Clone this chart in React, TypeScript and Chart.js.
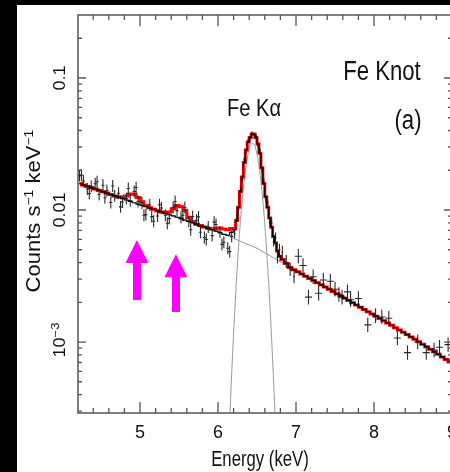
import { useEffect, useRef } from "react";
import { Chart, registerables } from "chart.js";
Chart.register(...registerables);

// ---------- data ----------
const modelE = [4.225,4.275,4.325,4.375,4.425,4.475,4.525,4.575,4.625,4.675,4.725,4.775,4.825,4.875,4.925,4.975,
5.025,5.075,5.125,5.175,5.225,5.275,5.325,5.375,5.425,5.475,5.525,5.575,5.625,5.675,5.725,5.775,5.825,5.875,5.925,5.975,
6.025,6.075,6.125,6.175,
6.2125,6.2375,6.2625,6.2875,6.3125,6.3375,6.3625,6.3875,6.4125,6.4375,6.4625,6.4875,6.5125,6.5375,6.5625,6.5875,
6.6125,6.6375,6.6625,6.6875,6.7125,6.7375,6.7625,6.7875,
6.825,6.875,6.925,6.975,
7.025,7.075,7.125,7.175,7.225,7.275,7.325,7.375,7.425,7.475,7.525,7.575,7.625,7.675,7.725,7.775,7.825,7.875,7.925,7.975,
8.025,8.075,8.125,8.175,8.225,8.275,8.325,8.375,8.425,8.475,8.525,8.575,8.625,8.675,8.725,8.775,8.825,8.875,8.925,8.975];

const modelBlack = [0.01585,0.01549,0.01510,0.01476,0.01442,0.01406,0.01374,0.01343,0.01309,0.01279,0.01250,0.01219,0.01191,0.01164,0.01135,0.01109,
0.01084,0.01059,0.01035,0.01012,0.009886,0.009661,0.009441,0.009226,0.009016,0.008810,0.008610,0.008395,0.008204,0.007998,0.007816,0.007621,0.007447,0.007261,0.007096,0.006918,
0.006745,0.006546,0.006457,0.006761,
0.007079,0.008318,0.01047,0.01380,0.01778,0.02291,0.02851,0.03273,0.03548,0.03758,0.03758,0.03548,0.03162,0.02692,0.02089,0.01585,
0.01259,0.01047,0.008710,0.007413,0.006310,0.005623,0.004898,0.004467,
0.004217,0.003936,0.003673,0.003532,
0.003404,0.003273,0.003155,0.003034,0.002924,0.002812,0.002710,0.002606,0.002512,0.002415,0.002326,0.002234,0.002148,0.002065,0.001986,0.001910,0.001837,0.001766,0.001698,0.001633,
0.001570,0.001510,0.001449,0.001393,0.001337,0.001285,0.001233,0.001186,0.001138,0.001094,0.001048,0.001003,0.0009605,0.0009194,0.0008800,0.0008423,0.0008063,0.0007718,0.0007386,0.0007070];

const modelRed = [0.01585,0.01549,0.01510,0.01476,0.01442,0.01406,0.01374,0.01343,0.01309,0.01279,0.01250,0.01262,0.01276,0.01321,0.01318,0.01245,
0.01156,0.01084,0.01042,0.01012,0.009886,0.009661,0.009550,0.009661,0.01023,0.01084,0.01059,0.009977,0.008790,0.008147,0.007816,0.007621,0.007447,0.007261,0.007178,0.007244,
0.007311,0.007178,0.007079,0.007244,
0.007244,0.008318,0.01047,0.01380,0.01778,0.02291,0.02851,0.03273,0.03548,0.03758,0.03758,0.03548,0.03162,0.02692,0.02089,0.01585,
0.01259,0.01047,0.008710,0.007413,0.006310,0.005623,0.004898,0.004467,
0.004217,0.003936,0.003673,0.003532,
0.003404,0.003273,0.003155,0.003034,0.002924,0.002812,0.002710,0.002606,0.002512,0.002415,0.002326,0.002234,0.002148,0.002065,0.001986,0.001910,0.001837,0.001766,0.001698,0.001633,
0.001570,0.001510,0.001449,0.001393,0.001337,0.001285,0.001233,0.001186,0.001138,0.001094,0.001048,0.001003,0.0009605,0.0009194,0.0008800,0.0008423,0.0008063,0.0007718,0.0007386,0.0007070];

const contE = [4.2, 5.0, 5.5, 6.0, 6.5, 7.0, 7.5, 8.0, 8.5, 9.0];
const contV = [0.01603, 0.01096, 0.008710, 0.006839, 0.005129, 0.003467, 0.002371, 0.001603, 0.001072, 0.0006918];

const gaussE = [6.10,6.15,6.20,6.25,6.30,6.35,6.40,6.45,6.50,6.55,6.60,6.65,6.70,6.75,6.80];
const gaussV = [4.3e-5,2.57e-4,0.001165,0.003974,0.01022,0.01982,0.02896,0.03188,0.02646,0.01654,0.007789,0.002768,0.00074,0.000149,2.26e-5];

const lowE = [4.225,4.275,4.325,4.375,4.425,4.475,4.525,4.575,4.625,4.675,4.725,4.775,4.825,4.875,4.925,4.975,
5.025,5.075,5.125,5.175,5.225,5.275,5.325,5.375,5.425,5.475,5.525,5.575,5.625,5.675,5.725,5.775,5.825,5.875,5.925,5.975,
6.025,6.075,6.125,6.175];
const lowV = [0.01820,0.01660,0.01442,0.01510,0.01581,0.01312,0.01542,0.01406,0.01140,0.01279,0.01340,0.01151,0.01219,0.01178,0.01380,0.01161,
0.01130,0.009226,0.01091,0.008222,0.009016,0.01035,0.009120,0.008610,0.01047,0.009886,0.008810,0.01045,0.008204,0.008933,0.008375,0.006792,0.006194,0.007430,0.006397,0.007762,
0.006823,0.005702,0.005129,0.006310];
const low2E = [4.25,4.35,4.45,4.55,4.65,4.75,4.85,4.95,5.05,5.15,5.25,5.35,5.45,5.55,5.65,5.75,5.85,5.95,6.05,6.15];
const low2V = [0.01841,0.01330,0.01637,0.01239,0.01521,0.01057,0.01456,0.01479,0.009120,0.008913,0.01096,0.007943,0.01161,0.009120,0.007079,0.008872,0.005984,0.008091,0.005495,0.004842];
const lowErrDex = 0.045;
const lowHalfWidth = 0.02;

const peakE = [6.2125,6.2375,6.2625,6.2875,6.3125,6.3375,6.3625,6.3875,6.4125,6.4375,6.4625,6.4875,6.5125,6.5375,6.5625,6.5875,
6.6125,6.6375,6.6625,6.6875,6.7125,6.7375,6.7625,6.7875,6.825,6.875,6.925,6.975];
const peakV = [0.006607,0.008710,0.01000,0.01413,0.01698,0.02399,0.02786,0.03350,0.03467,0.03802,0.03673,0.03631,0.03090,0.02818,0.01995,0.01660,
0.01202,0.01122,0.008128,0.007943,0.005754,0.006166,0.004365,0.005012,0.004786,0.004074,0.003548,0.003126];
const peakErrDex = [0.035,0.03,0.028,0.025,0.022,0.02,0.018,0.017,0.016,0.016,0.016,0.016,0.017,0.018,0.02,0.022,
0.025,0.028,0.03,0.033,0.036,0.04,0.045,0.045,0.05,0.05,0.05,0.05];
const peakHalfWidth = 0.0125;

const highE = [7.03,7.09,7.16,7.22,7.29,7.35,7.44,7.50,7.55,7.59,7.66,7.70,7.80,7.92,8.02,8.10,8.19,8.30,8.43,8.56,8.67,8.77,8.84,8.95];
const highV = [0.004467,0.003802,0.002188,0.003126,0.002344,0.002951,0.002884,0.002512,0.002291,0.002188,0.002399,0.002089,0.002138,0.001349,
0.001585,0.001549,0.001514,0.001072,0.0008318,0.001000,0.0008318,0.0008710,0.0009120,0.0009550];
const highErrDex = 0.055;
const highHalfWidth = 0.045;

const arrowE = [4.961, 5.461];
const arrowTip = [0.005929, 0.004616];
const arrowTail = [0.002080, 0.001687];

const xTickValues = [5, 6, 7, 8, 9];
const xTickLabels = ["5", "6", "7", "8", "9"];
const yTickValues = [0.1, 0.01, 0.001];
const yTickLabels = ["0.1", "0.01", "10|−3"];

const X_MIN = 4.205, X_MAX = 9.0, Y_MIN = 2.9e-4, Y_MAX = 0.3;

// ---------- helpers ----------
function crosses(E: number[], V: number[], dx: number, err: number | number[]) {
  const pts: any[] = [];
  E.forEach((e, i) => {
    const v = V[i];
    const d = Array.isArray(err) ? err[i] : err;
    const f = Math.pow(10, d);
    pts.push({ x: e - dx, y: v }, { x: e + dx, y: v }, { x: e, y: null });
    pts.push({ x: e, y: v / f }, { x: e, y: v * f }, { x: e, y: null });
  });
  return pts;
}

function txt(ctx: CanvasRenderingContext2D, s: string, x: number, y: number, font: string, sx: number, align: CanvasTextAlign = "center") {
  ctx.save();
  ctx.translate(x, y);
  ctx.scale(sx, 1);
  ctx.font = font;
  ctx.textAlign = align;
  ctx.textBaseline = "alphabetic";
  ctx.fillText(s, 0, 0);
  ctx.restore();
}

type Seg = { t: string; sup: boolean };
function rotSegs(ctx: CanvasRenderingContext2D, segs: Seg[], x: number, y: number, size: number, supSize: number, rise: number, sx: number) {
  ctx.save();
  ctx.translate(x, y);
  ctx.scale(sx, 1);
  ctx.rotate(-Math.PI / 2);
  ctx.textBaseline = "alphabetic";
  ctx.textAlign = "left";
  const fam = "'Liberation Sans', Arial, sans-serif";
  let total = 0;
  const widths = segs.map((s) => {
    ctx.font = `${s.sup ? supSize : size}px ${fam}`;
    const w = ctx.measureText(s.t).width;
    total += w;
    return w;
  });
  let pos = -total / 2;
  segs.forEach((s, i) => {
    ctx.font = `${s.sup ? supSize : size}px ${fam}`;
    ctx.fillText(s.t, pos, s.sup ? -rise : 0);
    pos += widths[i];
  });
  ctx.restore();
}

const decor = {
  id: "decor",
  beforeDraw(chart: any) {
    const c = chart.ctx;
    c.save();
    c.fillStyle = "#000";
    c.fillRect(0, 0, chart.width, chart.height);
    c.fillStyle = "#fff";
    c.fillRect(17, 5, chart.width - 17, chart.height - 5);
    c.restore();
  },
  afterDatasetsDraw(chart: any) {
    const c: CanvasRenderingContext2D = chart.ctx;
    const { left, right, top, bottom } = chart.chartArea;
    const xs = chart.scales.x;
    const ys = chart.scales.y;
    const fam = "'Liberation Sans', Arial, sans-serif";
    c.save();
    // arrows
    c.fillStyle = "#ff00ff";
    arrowE.forEach((e, i) => {
      const px = xs.getPixelForValue(e);
      const ty = ys.getPixelForValue(arrowTip[i]);
      const by = ys.getPixelForValue(arrowTail[i]);
      c.beginPath();
      c.moveTo(px, ty);
      c.lineTo(px - 11.5, ty + 23);
      c.lineTo(px + 11.5, ty + 23);
      c.closePath();
      c.fill();
      c.fillRect(px - 4, ty + 22, 8, by - ty - 22);
    });
    // frame
    c.strokeStyle = "#555";
    c.lineWidth = 1.5;
    c.strokeRect(left, top, right - left, bottom - top);
    c.lineWidth = 1.3;
    c.beginPath();
    for (let k = 0; k <= 24; k++) {
      const v = 4.4 + k * 0.2;
      if (v > X_MAX + 1e-6) break;
      const major = Math.abs(v - Math.round(v)) < 1e-6;
      const len = major ? 11 : 5;
      const px = xs.getPixelForValue(v);
      c.moveTo(px, bottom); c.lineTo(px, bottom - len);
      c.moveTo(px, top); c.lineTo(px, top + len);
    }
    for (let d = -4; d <= 0; d++) {
      for (let m = 1; m <= 9; m++) {
        const v = m * Math.pow(10, d);
        if (v < Y_MIN || v > Y_MAX) continue;
        const len = m === 1 ? 8 : 4;
        const py = ys.getPixelForValue(v);
        c.moveTo(left, py); c.lineTo(left + len, py);
        c.moveTo(right, py); c.lineTo(right - len, py);
      }
    }
    c.stroke();
    // tick labels
    c.fillStyle = "#111";
    xTickValues.forEach((v, i) => {
      txt(c, xTickLabels[i], xs.getPixelForValue(v), 438, `18px ${fam}`, 1);
    });
    yTickValues.forEach((v, i) => {
      const py = ys.getPixelForValue(v);
      const lab = yTickLabels[i];
      if (lab.includes("|")) {
        const [b, e] = lab.split("|");
        rotSegs(c, [{ t: b, sup: false }, { t: e, sup: true }], 65, py - 2, 18, 13, 7, 0.9);
      } else {
        rotSegs(c, [{ t: lab, sup: false }], 65, py, 18, 13, 7, 0.9);
      }
    });
    // axis titles
    txt(c, "Energy (keV)", 260, 466, `22px ${fam}`, 0.76);
    rotSegs(c, [
      { t: "Counts s", sup: false },
      { t: "−1", sup: true },
      { t: " keV", sup: false },
      { t: "−1", sup: true },
    ], 40, 211, 22, 14, 8, 0.88);
    // annotations
    txt(c, "Fe Knot", 382, 80, `27px ${fam}`, 0.82);
    txt(c, "(a)", 408, 129, `27px ${fam}`, 0.82);
    txt(c, "Fe Kα", 254, 116, `24px ${fam}`, 0.84);
    c.restore();
  },
};

export default function App() {
  const ref = useRef<HTMLCanvasElement>(null);
  useEffect(() => {
    document.body.style.margin = "0";
    document.body.style.overflow = "hidden";
    document.body.style.background = "#000";
    const W = 456, H = 472;
    const chart = new Chart(ref.current!, {
      type: "scatter",
      data: {
        datasets: [
          {
            label: "model",
            data: modelE.map((e, i) => ({ x: e, y: modelBlack[i] })),
            showLine: true, stepped: "middle", borderColor: "#000", borderWidth: 1.2, pointRadius: 0,
          } as any,
          {
            label: "data",
            data: [
              ...crosses(lowE, lowV, lowHalfWidth, lowErrDex),
              ...crosses(low2E, low2V, lowHalfWidth, lowErrDex),
              ...crosses(peakE, peakV, peakHalfWidth, peakErrDex),
              ...crosses(highE, highV, highHalfWidth, highErrDex),
            ],
            showLine: true, spanGaps: false, borderColor: "#2a2a2a", borderWidth: 1.1, pointRadius: 0,
          },
          {
            label: "total",
            data: modelE.map((e, i) => ({ x: e, y: modelRed[i] })),
            showLine: true, stepped: "middle", borderColor: "#ff0000", borderWidth: 3, pointRadius: 0,
          } as any,
          {
            label: "continuum",
            data: contE.map((e, i) => ({ x: e, y: contV[i] })),
            showLine: true, borderColor: "#9a9a9a", borderWidth: 1, pointRadius: 0,
          },
          {
            label: "FeKa",
            data: gaussE.map((e, i) => ({ x: e, y: gaussV[i] })),
            showLine: true, borderColor: "#9a9a9a", borderWidth: 1, pointRadius: 0,
            cubicInterpolationMode: "monotone",
          } as any,
        ],
      },
      options: {
        responsive: false,
        animation: false,
        devicePixelRatio: 1,
        events: [],
        layout: { padding: { left: 78, top: 15, right: W - 452, bottom: H - 413 } },
        plugins: { legend: { display: false }, tooltip: { enabled: false } },
        scales: {
          x: { type: "linear", min: X_MIN, max: X_MAX, display: false },
          y: { type: "logarithmic", min: Y_MIN, max: Y_MAX, display: false },
        },
      },
      plugins: [decor],
    });
    return () => chart.destroy();
  }, []);
  return (
    <div style={{ width: 450, height: 472, overflow: "hidden", position: "relative", background: "#000" }}>
      <canvas ref={ref} width={456} height={472} style={{ display: "block", width: 456, height: 472 }} />
    </div>
  );
}
